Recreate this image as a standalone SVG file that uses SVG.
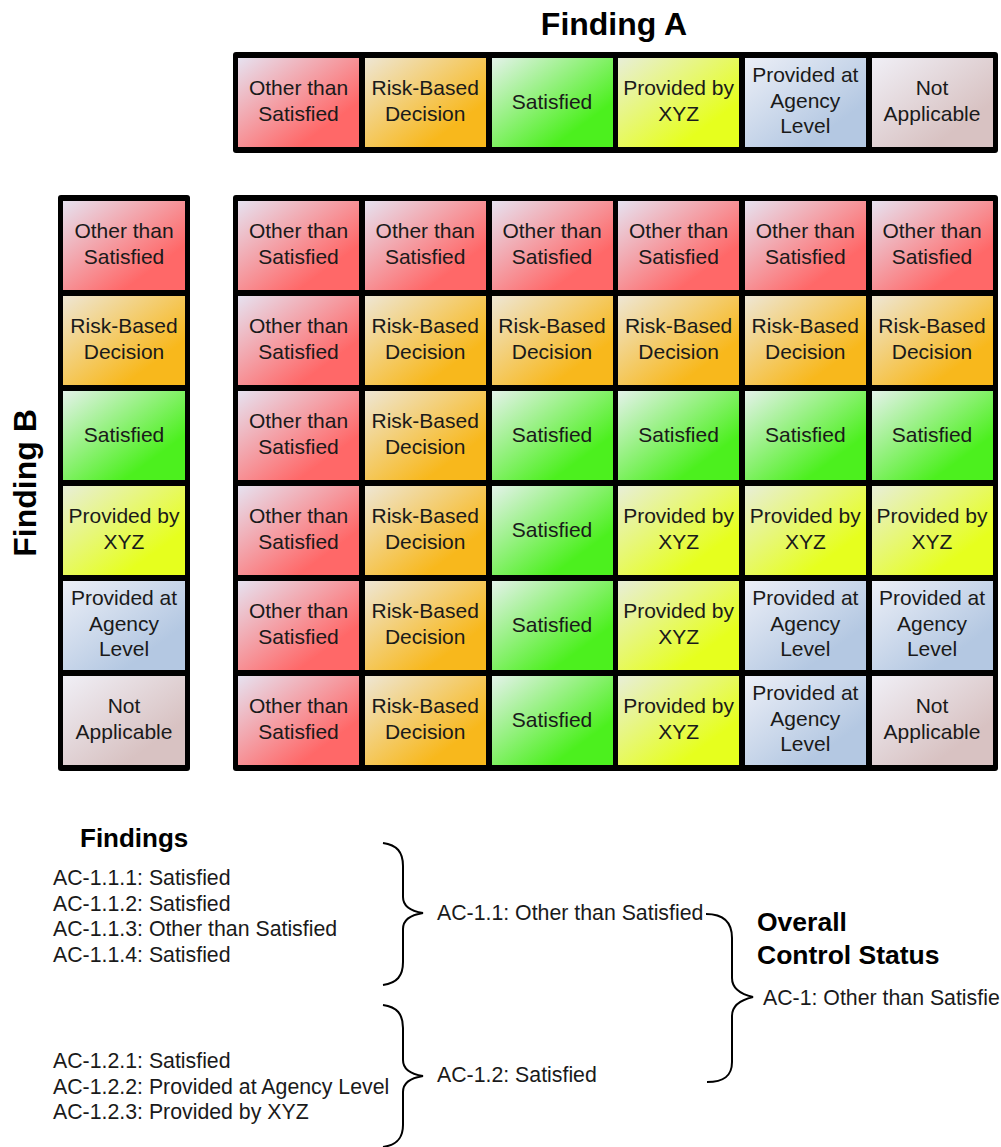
<svg xmlns="http://www.w3.org/2000/svg" width="1001" height="1147" viewBox="0 0 1001 1147">
<defs>
<linearGradient id="gR" x1="0" y1="0" x2="0.75" y2="0.75"><stop offset="0" stop-color="#e6e2f0"/><stop offset="1" stop-color="#ff6868"/></linearGradient>
<linearGradient id="gO" x1="0" y1="0" x2="0.75" y2="0.75"><stop offset="0" stop-color="#eee6d4"/><stop offset="1" stop-color="#f8b81c"/></linearGradient>
<linearGradient id="gG" x1="0" y1="0" x2="0.75" y2="0.75"><stop offset="0" stop-color="#e4f2ea"/><stop offset="1" stop-color="#4cf01e"/></linearGradient>
<linearGradient id="gY" x1="0" y1="0" x2="0.75" y2="0.75"><stop offset="0" stop-color="#e8eed8"/><stop offset="1" stop-color="#e6ff1e"/></linearGradient>
<linearGradient id="gB" x1="0" y1="0" x2="0.75" y2="0.75"><stop offset="0" stop-color="#eceff7"/><stop offset="1" stop-color="#b4c8e2"/></linearGradient>
<linearGradient id="gN" x1="0" y1="0" x2="0.75" y2="0.75"><stop offset="0" stop-color="#f0eff6"/><stop offset="1" stop-color="#d8c2c2"/></linearGradient>
</defs>
<style>
.frame{fill:#000;}
.c{stroke:none;}
.t{font-family:"Liberation Sans",Arial,sans-serif;font-size:21px;fill:#1a1a1a;text-anchor:middle;}
.h{font-family:"Liberation Sans",Arial,sans-serif;font-weight:bold;fill:#000;}
.l{font-family:"Liberation Sans",Arial,sans-serif;font-size:21.3px;fill:#1a1a1a;}
.br{fill:none;stroke:#000;stroke-width:2;}
.R{fill:url(#gR);} .O{fill:url(#gO);} .G{fill:url(#gG);} .Y{fill:url(#gY);} .B{fill:url(#gB);} .N{fill:url(#gN);}
</style>
<rect width="1001" height="1147" fill="#fff"/>

<text class="h" x="614" y="35" font-size="32" text-anchor="middle">Finding A</text>
<text class="h" transform="translate(36,483) rotate(-90)" font-size="32" text-anchor="middle">Finding B</text>

<!-- Finding A header row -->
<g id="findingA">
<rect class="frame" x="233" y="52" width="765" height="101" rx="3"/>
<g id="a1"><rect class="c R" x="238" y="58" width="121" height="89"/><text class="t" x="298.5" y="95">Other than</text><text class="t" x="298.5" y="121">Satisfied</text></g>
<g id="a2"><rect class="c O" x="365" y="58" width="121" height="89"/><text class="t" x="425.2" y="95">Risk-Based</text><text class="t" x="425.2" y="121">Decision</text></g>
<g id="a3"><rect class="c G" x="492" y="58" width="121" height="89"/><text class="t" x="552" y="108.5">Satisfied</text></g>
<g id="a4"><rect class="c Y" x="618" y="58" width="121" height="89"/><text class="t" x="678.6" y="95">Provided by</text><text class="t" x="678.6" y="121">XYZ</text></g>
<g id="a5"><rect class="c B" x="745" y="58" width="121" height="89"/><text class="t" x="805.3" y="82">Provided at</text><text class="t" x="805.3" y="108">Agency</text><text class="t" x="805.3" y="133">Level</text></g>
<g id="a6"><rect class="c N" x="872" y="58" width="121" height="89"/><text class="t" x="932" y="95">Not</text><text class="t" x="932" y="121">Applicable</text></g>
</g>

<!-- Finding B column -->
<g id="findingB">
<rect class="frame" x="58" y="195" width="132" height="576" rx="3"/>
<g id="b1"><rect class="c R" x="63" y="201" width="122" height="89"/><text class="t" x="124" y="238">Other than</text><text class="t" x="124" y="264">Satisfied</text></g>
<g id="b2"><rect class="c O" x="63" y="296" width="122" height="89"/><text class="t" x="124" y="333">Risk-Based</text><text class="t" x="124" y="359">Decision</text></g>
<g id="b3"><rect class="c G" x="63" y="391" width="122" height="89"/><text class="t" x="124" y="441.5">Satisfied</text></g>
<g id="b4"><rect class="c Y" x="63" y="486" width="122" height="89"/><text class="t" x="124" y="523">Provided by</text><text class="t" x="124" y="549">XYZ</text></g>
<g id="b5"><rect class="c B" x="63" y="581" width="122" height="89"/><text class="t" x="124" y="605">Provided at</text><text class="t" x="124" y="631">Agency</text><text class="t" x="124" y="656">Level</text></g>
<g id="b6"><rect class="c N" x="63" y="676" width="122" height="89"/><text class="t" x="124" y="713">Not</text><text class="t" x="124" y="739">Applicable</text></g>
</g>

<!-- Result matrix -->
<g id="matrix">
<rect class="frame" x="233" y="195" width="765" height="576" rx="3"/>
<!-- row 1 -->
<g id="m11"><rect class="c R" x="238" y="201" width="121" height="89"/><text class="t" x="298.5" y="238">Other than</text><text class="t" x="298.5" y="264">Satisfied</text></g>
<g id="m12"><rect class="c R" x="365" y="201" width="121" height="89"/><text class="t" x="425.2" y="238">Other than</text><text class="t" x="425.2" y="264">Satisfied</text></g>
<g id="m13"><rect class="c R" x="492" y="201" width="121" height="89"/><text class="t" x="552" y="238">Other than</text><text class="t" x="552" y="264">Satisfied</text></g>
<g id="m14"><rect class="c R" x="618" y="201" width="121" height="89"/><text class="t" x="678.6" y="238">Other than</text><text class="t" x="678.6" y="264">Satisfied</text></g>
<g id="m15"><rect class="c R" x="745" y="201" width="121" height="89"/><text class="t" x="805.3" y="238">Other than</text><text class="t" x="805.3" y="264">Satisfied</text></g>
<g id="m16"><rect class="c R" x="872" y="201" width="121" height="89"/><text class="t" x="932" y="238">Other than</text><text class="t" x="932" y="264">Satisfied</text></g>
<!-- row 2 -->
<g id="m21"><rect class="c R" x="238" y="296" width="121" height="89"/><text class="t" x="298.5" y="333">Other than</text><text class="t" x="298.5" y="359">Satisfied</text></g>
<g id="m22"><rect class="c O" x="365" y="296" width="121" height="89"/><text class="t" x="425.2" y="333">Risk-Based</text><text class="t" x="425.2" y="359">Decision</text></g>
<g id="m23"><rect class="c O" x="492" y="296" width="121" height="89"/><text class="t" x="552" y="333">Risk-Based</text><text class="t" x="552" y="359">Decision</text></g>
<g id="m24"><rect class="c O" x="618" y="296" width="121" height="89"/><text class="t" x="678.6" y="333">Risk-Based</text><text class="t" x="678.6" y="359">Decision</text></g>
<g id="m25"><rect class="c O" x="745" y="296" width="121" height="89"/><text class="t" x="805.3" y="333">Risk-Based</text><text class="t" x="805.3" y="359">Decision</text></g>
<g id="m26"><rect class="c O" x="872" y="296" width="121" height="89"/><text class="t" x="932" y="333">Risk-Based</text><text class="t" x="932" y="359">Decision</text></g>
<!-- row 3 -->
<g id="m31"><rect class="c R" x="238" y="391" width="121" height="89"/><text class="t" x="298.5" y="428">Other than</text><text class="t" x="298.5" y="454">Satisfied</text></g>
<g id="m32"><rect class="c O" x="365" y="391" width="121" height="89"/><text class="t" x="425.2" y="428">Risk-Based</text><text class="t" x="425.2" y="454">Decision</text></g>
<g id="m33"><rect class="c G" x="492" y="391" width="121" height="89"/><text class="t" x="552" y="441.5">Satisfied</text></g>
<g id="m34"><rect class="c G" x="618" y="391" width="121" height="89"/><text class="t" x="678.6" y="441.5">Satisfied</text></g>
<g id="m35"><rect class="c G" x="745" y="391" width="121" height="89"/><text class="t" x="805.3" y="441.5">Satisfied</text></g>
<g id="m36"><rect class="c G" x="872" y="391" width="121" height="89"/><text class="t" x="932" y="441.5">Satisfied</text></g>
<!-- row 4 -->
<g id="m41"><rect class="c R" x="238" y="486" width="121" height="89"/><text class="t" x="298.5" y="523">Other than</text><text class="t" x="298.5" y="549">Satisfied</text></g>
<g id="m42"><rect class="c O" x="365" y="486" width="121" height="89"/><text class="t" x="425.2" y="523">Risk-Based</text><text class="t" x="425.2" y="549">Decision</text></g>
<g id="m43"><rect class="c G" x="492" y="486" width="121" height="89"/><text class="t" x="552" y="536.5">Satisfied</text></g>
<g id="m44"><rect class="c Y" x="618" y="486" width="121" height="89"/><text class="t" x="678.6" y="523">Provided by</text><text class="t" x="678.6" y="549">XYZ</text></g>
<g id="m45"><rect class="c Y" x="745" y="486" width="121" height="89"/><text class="t" x="805.3" y="523">Provided by</text><text class="t" x="805.3" y="549">XYZ</text></g>
<g id="m46"><rect class="c Y" x="872" y="486" width="121" height="89"/><text class="t" x="932" y="523">Provided by</text><text class="t" x="932" y="549">XYZ</text></g>
<!-- row 5 -->
<g id="m51"><rect class="c R" x="238" y="581" width="121" height="89"/><text class="t" x="298.5" y="618">Other than</text><text class="t" x="298.5" y="644">Satisfied</text></g>
<g id="m52"><rect class="c O" x="365" y="581" width="121" height="89"/><text class="t" x="425.2" y="618">Risk-Based</text><text class="t" x="425.2" y="644">Decision</text></g>
<g id="m53"><rect class="c G" x="492" y="581" width="121" height="89"/><text class="t" x="552" y="631.5">Satisfied</text></g>
<g id="m54"><rect class="c Y" x="618" y="581" width="121" height="89"/><text class="t" x="678.6" y="618">Provided by</text><text class="t" x="678.6" y="644">XYZ</text></g>
<g id="m55"><rect class="c B" x="745" y="581" width="121" height="89"/><text class="t" x="805.3" y="605">Provided at</text><text class="t" x="805.3" y="631">Agency</text><text class="t" x="805.3" y="656">Level</text></g>
<g id="m56"><rect class="c B" x="872" y="581" width="121" height="89"/><text class="t" x="932" y="605">Provided at</text><text class="t" x="932" y="631">Agency</text><text class="t" x="932" y="656">Level</text></g>
<!-- row 6 -->
<g id="m61"><rect class="c R" x="238" y="676" width="121" height="89"/><text class="t" x="298.5" y="713">Other than</text><text class="t" x="298.5" y="739">Satisfied</text></g>
<g id="m62"><rect class="c O" x="365" y="676" width="121" height="89"/><text class="t" x="425.2" y="713">Risk-Based</text><text class="t" x="425.2" y="739">Decision</text></g>
<g id="m63"><rect class="c G" x="492" y="676" width="121" height="89"/><text class="t" x="552" y="726.5">Satisfied</text></g>
<g id="m64"><rect class="c Y" x="618" y="676" width="121" height="89"/><text class="t" x="678.6" y="713">Provided by</text><text class="t" x="678.6" y="739">XYZ</text></g>
<g id="m65"><rect class="c B" x="745" y="676" width="121" height="89"/><text class="t" x="805.3" y="700">Provided at</text><text class="t" x="805.3" y="726">Agency</text><text class="t" x="805.3" y="751">Level</text></g>
<g id="m66"><rect class="c N" x="872" y="676" width="121" height="89"/><text class="t" x="932" y="713">Not</text><text class="t" x="932" y="739">Applicable</text></g>
</g>

<!-- Findings list -->
<g id="findings">
<text class="h" x="80" y="847" font-size="26">Findings</text>
<text class="l" x="53" y="885">AC-1.1.1: Satisfied</text>
<text class="l" x="53" y="911">AC-1.1.2: Satisfied</text>
<text class="l" x="53" y="936">AC-1.1.3: Other than Satisfied</text>
<text class="l" x="53" y="962">AC-1.1.4: Satisfied</text>
<text class="l" x="53" y="1068">AC-1.2.1: Satisfied</text>
<text class="l" x="53" y="1094">AC-1.2.2: Provided at Agency Level</text>
<text class="l" x="53" y="1119">AC-1.2.3: Provided by XYZ</text>
</g>

<g id="connectors">
<path class="br" d="M383,843 C397,845 403,852 403,866 L403,897 C403,906 410,911 423,913 C410,915 403,920 403,929 L403,962 C403,976 397,983 383,985"/>
<path class="br" d="M383,1005 C397,1007 403,1014 403,1028 L403,1060 C403,1069 410,1074 423,1076 C410,1078 403,1083 403,1092 L403,1125 C403,1138 397,1145 383,1147"/>
<path class="br" d="M706,914 C724,914 732,922 732,938 L732,978 C732,988 740,994 753,997 C740,1000 732,1006 732,1016 L732,1062 C732,1076 724,1082 707,1082"/>
</g>

<g id="ac11"><text class="l" x="437" y="920">AC-1.1: Other than Satisfied</text></g>
<g id="ac12"><text class="l" x="437" y="1082">AC-1.2: Satisfied</text></g>
<g id="overall">
<text class="h" x="757" y="931" font-size="26.5">Overall</text>
<text class="h" x="757" y="964" font-size="26.5">Control Status</text>
</g>
<g id="ac1"><text class="l" x="763" y="1005">AC-1: Other than Satisfie</text></g>
</svg>
